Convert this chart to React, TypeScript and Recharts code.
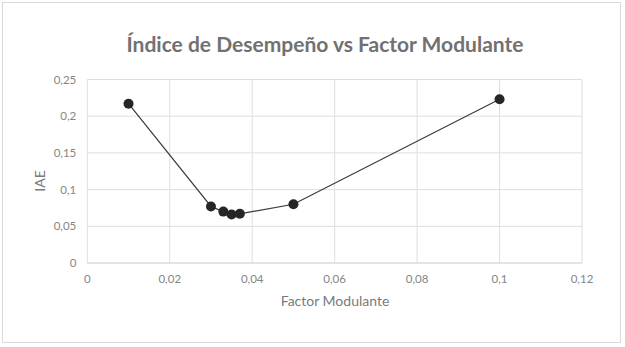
import React from "react";
import { ScatterChart, Scatter, XAxis, YAxis, CartesianGrid } from "recharts";

const factorValues = [0.01, 0.03, 0.033, 0.035, 0.037, 0.05, 0.1];
const iaeValues = [0.217, 0.077, 0.07, 0.066, 0.067, 0.08, 0.223];
const xTicks = [0, 0.02, 0.04, 0.06, 0.08, 0.1, 0.12];
const yTicks = [0, 0.05, 0.1, 0.15, 0.2, 0.25];

const data = factorValues.map((x, i) => ({ x, y: iaeValues[i] }));
const fmt = (v: number) => String(v).replace(".", ",");

const FONT = "Lato, 'Open Sans', sans-serif";

export default function App() {
  return (
    <div style={{ position: "absolute", left: 0, top: 0, width: 625, height: 347, background: "#fff", fontFamily: FONT }}>
      <div style={{ position: "absolute", left: 2, top: 2, width: 617, height: 339, border: "1px solid #d9d9d9" }} />
      <div style={{ position: "absolute", left: 0, width: 650, top: 30, textAlign: "center", fontSize: 21, fontWeight: 700, color: "#717171", lineHeight: "28px" }}>
        Índice de Desempeño vs Factor Modulante
      </div>
      <div style={{ position: "absolute", left: 88, width: 494, top: 292, textAlign: "center", fontSize: 14, color: "#7a7a7a", lineHeight: "18px" }}>
        Factor Modulante
      </div>
      <div style={{ position: "absolute", left: 40, top: 181, width: 0, height: 0 }}>
        <div style={{ position: "absolute", transform: "translate(-50%, -50%) rotate(-90deg)", fontSize: 14, color: "#7a7a7a", whiteSpace: "nowrap", lineHeight: "18px" }}>
          IAE
        </div>
      </div>
      <div style={{ position: "absolute", left: 0, top: 0 }}>
        <ScatterChart width={625} height={347} margin={{ top: 79.5, right: 43, bottom: 54, left: 0 }}>
          <CartesianGrid stroke="#dedede" strokeWidth={1} />
          <XAxis
            type="number"
            dataKey="x"
            domain={[0, 0.12]}
            ticks={xTicks}
            tickFormatter={fmt}
            axisLine={{ stroke: "#d9d9d9" }}
            tickLine={false}
            tickSize={6}
            tickMargin={6}
            height={30}
            tick={{ fill: "#858585", fontSize: 11.5, fontFamily: FONT }}
          />
          <YAxis
            type="number"
            dataKey="y"
            domain={[0, 0.25]}
            ticks={yTicks}
            tickFormatter={fmt}
            axisLine={false}
            tickLine={false}
            tickSize={6}
            tickMargin={5}
            width={87.3}
            tick={{ fill: "#858585", fontSize: 11.5, fontFamily: FONT }}
          />
          <Scatter
            data={data}
            line={{ stroke: "#3a3a3a", strokeWidth: 1.2 }}
            lineType="joint"
            fill="#262626"
            shape={(p: any) => <circle cx={p.cx} cy={p.cy} r={5} fill="#262626" />}
            isAnimationActive={false}
          />
        </ScatterChart>
      </div>
    </div>
  );
}
